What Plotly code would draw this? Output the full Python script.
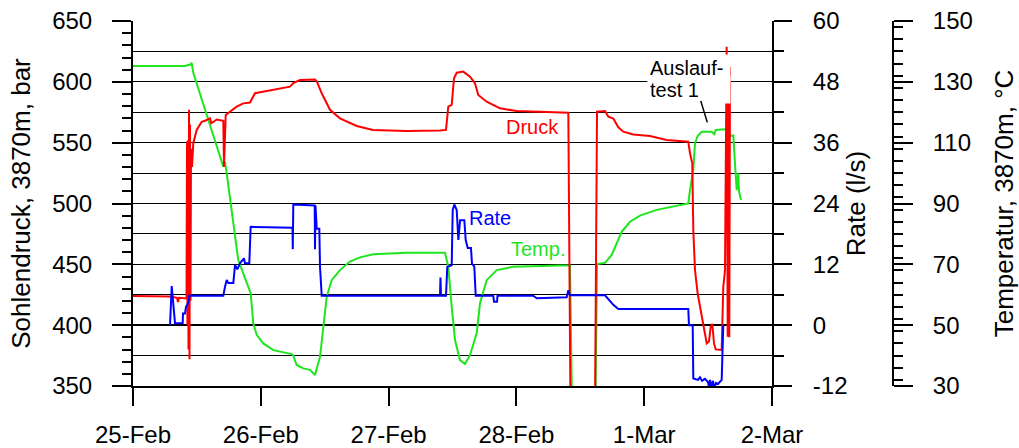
import pandas as pd
import plotly.graph_objects as go

# Test start: 25 Feb, 00:00; all times below are hours after that.
T0 = pd.Timestamp("2003-02-25 00:00")

# Bottom-hole pressure (bar) at 3870 m
druck_h = [0, 6.95, 8.26, 8.45, 8.64, 10.05, 10.14, 10.23, 10.33, 10.42, 10.52, 10.61,
           10.70, 10.80, 10.89, 11.08, 11.32, 11.96, 12.90, 13.52, 14.46, 14.70, 15.08,
           15.72, 16.96, 17.09, 17.41, 18.22, 19.47, 20.71, 21.97, 22.91, 23.85, 27.61,
           29.49, 30.10, 31.36, 34.18, 34.55, 35.44, 36.99, 38.87, 42.01, 45.07, 51.40,
           57.65, 58.78, 59.21, 59.85, 60.28, 60.79, 62.03, 63.29, 64.22, 64.84, 66.42,
           68.92, 72.06, 78.93, 81.75, 82.16, 86.76, 87.14, 88.64, 89.26, 90.20, 91.14,
           92.07, 93.95, 97.09, 100.22, 104.28, 104.60, 105.03, 105.22, 105.54, 106.04,
           106.80, 107.29, 107.74, 108.17, 108.49, 108.79, 109.11, 109.43, 110.55,
           110.85, 111.17, 111.49, 111.68, 111.79, 111.98, 112.11]
druck_bar = [424, 423.5, 422.5, 419, 422.5, 422, 551, 400, 552, 380, 577, 372,
             565, 420, 545, 530, 549.5, 560.4, 567.2, 568, 570, 566, 567,
             569, 568, 530, 572.7, 575.5, 579.6, 582.3, 583, 590.6, 591.4, 594,
             596, 599, 601.5, 602, 600, 590.6, 577, 570, 563.7, 560.4, 559.6,
             560, 560.5, 579.6, 581, 602.9, 607.5, 608.4, 604.2, 598.8, 589.2, 583.7,
             578.2, 576, 575.3, 574.6, 330, 330, 575.5, 576, 571.4, 569.8, 562.6,
             559, 556.7, 555.5, 552.2, 550.8, 541.3, 533, 478, 445.3, 426,
             407, 394.6, 385, 386.5, 398.8, 401, 385, 380.1, 379.6,
             431.6, 445, 628.9, 390.5, 615, 390, 612.4]

# Flow rate (l/s)
rate_h = [6.95, 7.27, 7.89, 9.33, 9.39, 9.77, 9.95, 10.38, 10.57, 16.96, 17.28, 17.60,
          17.90, 18.84, 19.16, 19.60, 20.09, 20.84, 21.03, 21.84, 22.10, 29.95, 30.01,
          30.10, 34.12, 34.18, 34.27, 34.50, 34.99, 35.12, 35.44, 57.65, 57.74, 57.84,
          58.78, 59.02, 59.85, 60.04, 60.34, 60.79, 61.10, 61.42, 62.22, 62.48, 62.86,
          63.47, 63.66, 64.09, 64.36, 67.66, 67.80, 68.36, 68.45, 75.17, 75.81, 81.44,
          81.75, 82.06, 88.64, 89.26, 90.20, 91.14, 104.28, 104.41, 105.11, 105.22,
          106.10, 106.48, 106.85, 107.41, 107.98, 108.17, 108.36, 108.55, 108.92,
          109.11, 109.49, 109.86, 110.55, 110.85]
rate_ls = [0, 7.7, 0.4, 0.4, 2.3, 2.3, 3.6, 4.4, 5.8, 5.8, 7.6, 8.9,
           8.3, 8.3, 11.9, 11, 12.2, 13.2, 12.2, 12.2, 19.4, 19.2, 15,
           23.8, 23.6, 15, 23.6, 19, 19, 11.5, 5.8, 5.8, 9.4, 5.8,
           5.8, 11.5, 11.8, 22.7, 23.8, 22.7, 16.8, 20.7, 20.7, 16.8, 15.2,
           15.2, 12.1, 11.6, 5.8, 5.8, 4.6, 4.6, 5.8, 5.8, 5.3, 5.5,
           6.9, 5.9, 5.9, 5.2, 4.0, 3.2, 3.2, 0, 0, -10.5,
           -10.8, -10.3, -11, -10.6, -11.2, -12.3, -10.8, -12.2, -11,
           -12.4, -11.4, -11.6, -10.8, 0]

# Bottom-hole temperature (°C) at 3870 m
temp_h = [0, 9.77, 10.38, 10.70, 11.02, 11.32, 16.96, 17.28, 17.60, 18.54, 19.16, 19.77,
          20.71, 21.84, 22.10, 22.59, 23.23, 24.47, 26.35, 29.80, 30.10, 30.74, 31.98,
          33.24, 33.56, 34.18, 35.12, 35.74, 36.38, 37.31, 38.87, 40.75, 42.63, 45.13,
          51.40, 58.59, 59.21, 59.85, 60.47, 61.41, 62.35, 63.29, 64.54, 65.16, 66.42,
          68.30, 71.42, 80.19, 82.06, 82.44, 86.85, 87.14, 88.64, 89.90, 90.84, 91.77,
          93.33, 95.21, 98.35, 101.46, 104.28, 104.60, 105.22, 105.54, 106.04, 106.80,
          108.67, 109.16, 109.43, 111.17, 111.79, 112.24, 112.73, 113.05, 113.37,
          113.67, 113.80, 114.18]
temp_c = [135.2, 135.2, 135.5, 135.6, 136.2, 133, 102.1, 103.7, 99.9, 87.9, 79.1, 71.4,
          67, 62.1, 60.5, 50.6, 46.8, 44, 41.8, 40.5, 40, 36.9, 35.8,
          35.3, 34.8, 33.6, 39.6, 50.6, 59.4, 64.8, 68.1, 70.9, 72.3, 73.3,
          73.8, 73.8, 69.2, 56.1, 45.1, 38.5, 37.2, 40.2, 47.3, 57.2, 64.8,
          68.1, 69.2, 69.6, 69.6, 25, 25, 70.1, 70.5, 73.1, 76.9, 80.7,
          84, 86, 87.9, 88.9, 90, 94.4, 101, 109.8, 112.2, 113.6,
          113.6, 112.8, 114.2, 114.4, 114.3, 112.2, 112.4, 103.2, 94.4,
          99.9, 94, 91.1]

# Rate axis tick labels (plain hyphen for the negative value)
rate_ticks = [-12, 0, 12, 24, 36, 48, 60]
rate_ticktext = ["-12", "0", "12", "24", "36", "48", "60"]

# Time axis: labelled days and 6-hourly minor ticks
day_ticks = pd.date_range("2003-02-25", "2003-03-02", freq="D")
six_hour_ticks = [t for t in pd.date_range("2003-02-25", "2003-03-02", freq="6h")
                  if t.hour != 0]


def at(hours):
    return [T0 + pd.Timedelta(hours=h) for h in hours]


FONT = "Liberation Sans, Arial, sans-serif"
W, H = 1019, 448
ML, MR, MT, MB = 133, 60, 21, 62
PW = W - ML - MR
PH = H - MT - MB
X_RIGHT = 772      # right edge of the plotting area, px
T_AXIS = 893       # temperature axis line, px
P_RANGE = [350, 650]
MINOR_LEN = 10     # length of the 6-hour ticks, px

fig = go.Figure()
# temperature first so the pressure and rate curves lie on top of it
fig.add_trace(go.Scatter(x=at(temp_h), y=temp_c, yaxis="y", mode="lines",
                         line=dict(color="#1ee61e", width=2), name="Temp."))
fig.add_trace(go.Scatter(x=at(druck_h), y=druck_bar, yaxis="y2", mode="lines",
                         line=dict(color="#ff0000", width=2), name="Druck"))
fig.add_trace(go.Scatter(x=at(rate_h), y=rate_ls, yaxis="y3", mode="lines",
                         line=dict(color="#0000ff", width=2), name="Rate"))

# 6-hourly tick marks hanging below the time axis
bar_per_px = (P_RANGE[1] - P_RANGE[0]) / PH
fig.add_trace(go.Scatter(
    x=six_hour_ticks, y=[P_RANGE[0] - bar_per_px * MINOR_LEN / 2] * len(six_hour_ticks),
    yaxis="y2", mode="markers", cliponaxis=False, hoverinfo="skip",
    marker=dict(symbol="line-ns", size=MINOR_LEN, color="black",
                line=dict(width=2, color="black")),
    name="6 h"))

tickfont = dict(family=FONT, size=24, color="black")
titlefont = dict(family=FONT, size=26, color="black")

fig.update_layout(
    width=W, height=H,
    margin=dict(l=ML, r=MR, t=MT, b=MB, autoexpand=False),
    paper_bgcolor="white", plot_bgcolor="white",
    showlegend=False,
    font=dict(family=FONT, color="black"),
    xaxis=dict(
        domain=[0, (X_RIGHT - ML) / PW],
        type="date", range=[day_ticks[0], day_ticks[-1]],
        tickmode="array", tickvals=list(day_ticks),
        ticktext=[d.strftime("%-d-%b") for d in day_ticks],
        ticks="outside", ticklen=18, tickwidth=2, tickcolor="black",
        ticklabelstandoff=8,
        showline=True, linewidth=2, linecolor="black",
        showgrid=False, zeroline=False, tickfont=tickfont,
    ),
    # temperature, outer right axis
    yaxis=dict(
        anchor="free", side="right", position=(T_AXIS - ML) / PW,
        range=[30, 150], dtick=20, tick0=30,
        ticks="outside", ticklen=19, tickwidth=2, tickcolor="black",
        ticklabelstandoff=15,
        minor=dict(dtick=4, ticks="outside", ticklen=9, tickwidth=2,
                   tickcolor="black", showgrid=False),
        showline=True, linewidth=2, linecolor="black",
        showgrid=False, zeroline=False, tickfont=tickfont,
        title=dict(text="Temperatur, 3870m, °C", font=titlefont, standoff=22),
    ),
    # bottom-hole pressure, left axis
    yaxis2=dict(
        overlaying="y", anchor="x", side="left",
        range=P_RANGE, dtick=50,
        ticks="outside", ticklen=19, tickwidth=2, tickcolor="black",
        ticklabelstandoff=15,
        minor=dict(dtick=10, ticks="outside", ticklen=9, tickwidth=2,
                   tickcolor="black", showgrid=False),
        showline=True, linewidth=2, linecolor="black",
        showgrid=True, gridcolor="black", gridwidth=1,
        zeroline=False, tickfont=tickfont,
        title=dict(text="Sohlendruck, 3870m, bar", font=titlefont, standoff=14),
    ),
    # flow rate, inner right axis
    yaxis3=dict(
        overlaying="y", anchor="x", side="right",
        range=[-12, 60], tickmode="array", tickvals=rate_ticks, ticktext=rate_ticktext,
        ticks="outside", ticklen=18, tickwidth=2, tickcolor="black",
        ticklabelstandoff=16,
        minor=dict(dtick=6, tick0=0, ticks="outside", ticklen=10, tickwidth=2,
                   tickcolor="black", showgrid=True, gridcolor="black", gridwidth=1),
        showline=True, linewidth=2, linecolor="black",
        showgrid=False, zeroline=True, zerolinecolor="black", zerolinewidth=2,
        tickfont=tickfont,
        title=dict(text="Rate (l/s)", font=titlefont, standoff=0),
    ),
)

lbl = dict(family=FONT, size=20)
# curve labels
fig.add_annotation(x=T0 + pd.Timedelta(hours=69.7), y=562.5, xref="x", yref="y2",
                   text="Druck", showarrow=False, xanchor="left", yanchor="middle",
                   font=dict(lbl, color="#ff0000"))
fig.add_annotation(x=T0 + pd.Timedelta(hours=62.8), y=488.2, xref="x", yref="y2",
                   text="Rate", showarrow=False, xanchor="left", yanchor="middle",
                   font=dict(lbl, color="#0000ff"))
fig.add_annotation(x=T0 + pd.Timedelta(hours=70.6), y=462.6, xref="x", yref="y2",
                   text="Temp.", showarrow=False, xanchor="left", yanchor="middle",
                   font=dict(lbl, color="#1ee61e"))
# flow-down test label with leader
fig.add_annotation(x=T0 + pd.Timedelta(hours=96.6), y=611.4, xref="x", yref="y2",
                   text="Auslauf-", showarrow=False, xanchor="left", yanchor="middle",
                   align="left", width=78, bgcolor="white", borderpad=2,
                   font=dict(lbl, color="black"))
fig.add_annotation(x=T0 + pd.Timedelta(hours=96.6), y=593.5, xref="x", yref="y2",
                   text="test 1", showarrow=False, xanchor="left", yanchor="middle",
                   align="left", width=78, bgcolor="white", borderpad=2,
                   font=dict(lbl, color="black"))
fig.add_annotation(x=T0 + pd.Timedelta(hours=107.85), y=566.7, xref="x", yref="y2",
                   text="", showarrow=True, arrowhead=0, arrowwidth=1.5,
                   arrowcolor="black", ax=-7, ay=-23, standoff=0, startstandoff=0)

fig.write_html("out.html")
